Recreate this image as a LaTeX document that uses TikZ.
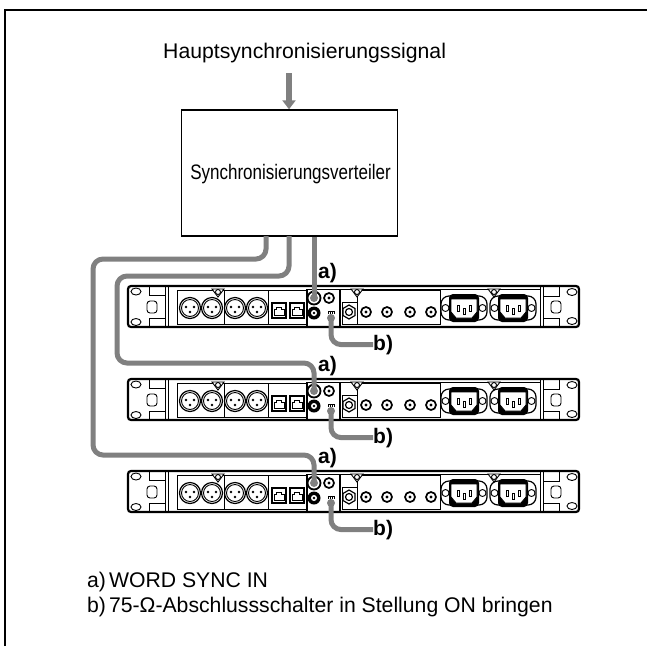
\documentclass[tikz,border=0pt]{standalone}
\usepackage{fontspec}
\setmainfont{Liberation Sans}
\usetikzlibrary{arrows.meta,shapes.geometric}
\definecolor{cablegray}{HTML}{808080}
\tikzset{
  x=1pt,y=-1pt,
  frameline/.style={line width=2pt,black},
  thin part/.style={line width=0.9pt,black},
  mid part/.style={line width=1.2pt,black},
  heavy part/.style={line width=1.8pt,black},
  cable/.style={line width=5pt,cablegray,rounded corners=10pt},
  lab/.style={anchor=base west,inner sep=0pt,font=\fontsize{21}{24}\selectfont\bfseries},
  txt/.style={anchor=base west,inner sep=0pt,font=\fontsize{21.2}{24}\selectfont},
  xlr/.pic={
    \draw[mid part] (0,0) circle[radius=10.5pt];
    \draw[thin part] (0,0) circle[radius=8.5pt];
    \fill (-4,-1) circle[radius=1.3pt] (4,-1) circle[radius=1.3pt] (0,4) circle[radius=1.3pt];
  },
  rj/.pic={
    \draw[mid part] (-7,-7.5) rectangle (7,7.5);
    \draw[thin part] (-5,5) -- (-5,-1) -- (-2.5,-1) -- (-2.5,-3.5) -- (2.5,-3.5) -- (2.5,-1) -- (5,-1) -- (5,5) -- cycle;
  },
  bnc/.pic={
    \draw[line width=1.7pt,fill=white] (0,0) circle[radius=5pt];
    \fill (0,0) circle[radius=1.6pt];
  },
  gnd/.pic={
    \draw[thin part,fill=white] (-6,0) -- (6,0) -- (0,8) -- cycle;
    \draw[thin part,fill=white] (0,3) circle[radius=2.5pt];
  },
  iec/.pic={
    \draw[mid part,rounded corners=8pt] (-23,-12) rectangle (23,12);
    \draw[thin part] (-18.5,0) circle[radius=3.5pt] (18.5,0) circle[radius=3.5pt];
    \fill[rounded corners=4pt] (-15,-14) rectangle (15,14);
    \draw[thin part,fill=white] (-13,-9) -- (13,-9) -- (13,4) -- (8,10) -- (-8,10) -- (-13,4) -- cycle;
    \draw[thin part] (-7,-3) rectangle (-5,3) (-1,0) rectangle (1,6) (5,-3) rectangle (7,3);
  },
  rack/.pic={
    \draw[line width=2.2pt,rounded corners=3pt] (128,0) rectangle (579,41);
    % left ear
    \draw[thin part] (136,5.5) ellipse[x radius=5pt,y radius=3.5pt];
    \draw[thin part] (136,36) ellipse[x radius=5pt,y radius=3.5pt];
    \draw[thin part,rounded corners=3pt] (147,15) rectangle (157,27);
    \draw[thin part] (149,0) -- (149,9) -- (165,9) (149,41) -- (149,32) -- (165,32);
    \draw[thin part] (165,0) -- (165,41) (168,0) -- (168,41);
    % right ear
    \draw[thin part] (540,0) -- (540,41) (543,0) -- (543,41);
    \draw[thin part] (543,10) -- (559,10) -- (559,1) (543,32) -- (559,32) -- (559,41);
    \draw[thin part,rounded corners=3pt] (551,15) rectangle (561,27);
    \draw[thin part] (572,6) ellipse[x radius=5pt,y radius=3.5pt];
    \draw[thin part] (572,35) ellipse[x radius=5pt,y radius=3.5pt];
    % panels
    \draw[thin part] (177,4) rectangle (307,38);
    \draw[thin part] (224,4) -- (224,38) (268,4) -- (268,38);
    \draw[thin part] (357,4) rectangle (440,38);
    \draw[thin part] (342,16) rectangle (357,38);
    \draw[heavy part] (307,3) -- (307,41) (340,3) -- (340,41);
    \draw[thin part] (307,3.5) -- (540,3.5);
    \foreach \cx in {190,212,235,257} \pic at (\cx,22) {xlr};
    \foreach \cx in {279,297} \pic at (\cx,24.5) {rj};
    \pic at (218,3) {gnd};
    \pic at (357,3) {gnd};
    \pic at (494,3) {gnd};
    \foreach \cx in {366,387,410,431} \pic at (\cx,26) {bnc};
    \draw[mid part] (349,19) -- (355,22.5) -- (355,29.5) -- (349,33) -- (343,29.5) -- (343,22.5) -- cycle;
    \draw[mid part] (349,26) circle[radius=3.5pt];
    % word sync section
    \draw[line width=1.8pt] (314,12) circle[radius=6.5pt];
    \pic at (329,12) {bnc};
    \fill (314,27) circle[radius=6.5pt];
    \fill[white] (314,27) circle[radius=3pt];
    \fill (314,27) circle[radius=1.4pt];
    \draw[line width=0.9pt] (328,27.5) -- (328,25) -- (334,25) -- (334,27.5) (330,25) -- (330,27.5) (332,25) -- (332,27.5);
    \pic at (464,22) {iec};
    \pic at (513,22) {iec};
    \coordinate (-a) at (314,12);
    \coordinate (-b) at (331,32);
  }
}
\begin{document}
\begin{tikzpicture}
\useasboundingbox (0,0) rectangle (647,646);
\draw[frameline] (5,646) -- (5,10) -- (647,10);

\node[txt] (main) at (163,58) {Hauptsynchronisierungssignal};
\node[draw=black,line width=1.4pt,minimum width=216pt,minimum height=126pt,inner sep=0pt] (dist) at (289.5,173) {};
\node[anchor=base,inner sep=0pt,font=\fontsize{21}{24}\selectfont] (distlabel) at (290.5,179) {\scalebox{0.81}[1]{Synchronisierungsverteiler}};
\coordinate (src) at (289,73);
\draw[-{Triangle[width=13pt,length=9pt,sep=0pt]},line width=6pt,cablegray] (src) -- (src |- dist.north);

\pic (u1) at (0,286) {rack};
\pic (u2) at (0,379) {rack};
\pic (u3) at (0,471) {rack};

\node[lab] (a1) at (318,278) {a)};
\node[lab] (a2) at (318,371) {a)};
\node[lab] (a3) at (318,463) {a)};
\node[lab] (b1) at (373,350) {b)};
\node[lab] (b2) at (373,443) {b)};
\node[lab] (b3) at (373,535) {b)};

\coordinate (o1) at (266,236);
\coordinate (o2) at (289,236);
\coordinate (h2) at (117,363);
\coordinate (h3) at (93,455);
\draw[cable] (dist.south -| u1-a) -- (u1-a);
\fill[cablegray] (u1-a) circle[radius=4pt];
\draw[cable] (o2) -- (289,276) -- (117,276) -- (h2) -- (h2 -| u2-a) -- (u2-a);
\fill[cablegray] (u2-a) circle[radius=4pt];
\draw[cable] (o1) -- (266,259) -- (93,259) -- (h3) -- (h3 -| u3-a) -- (u3-a);
\fill[cablegray] (u3-a) circle[radius=4pt];

\foreach \u/\l in {u1/b1,u2/b2,u3/b3}{
  \draw[cable] (\u-b) |- (\l.west);
  \fill[cablegray] (\u-b) circle[radius=4pt];
}

\node[txt] (la) at (87,587) {a)\hspace{3pt}WORD SYNC IN};
\node[txt] (lb) at (87,612) {b)\hspace{3pt}75-Ω-Abschlussschalter in Stellung ON bringen};
\end{tikzpicture}
\end{document}
